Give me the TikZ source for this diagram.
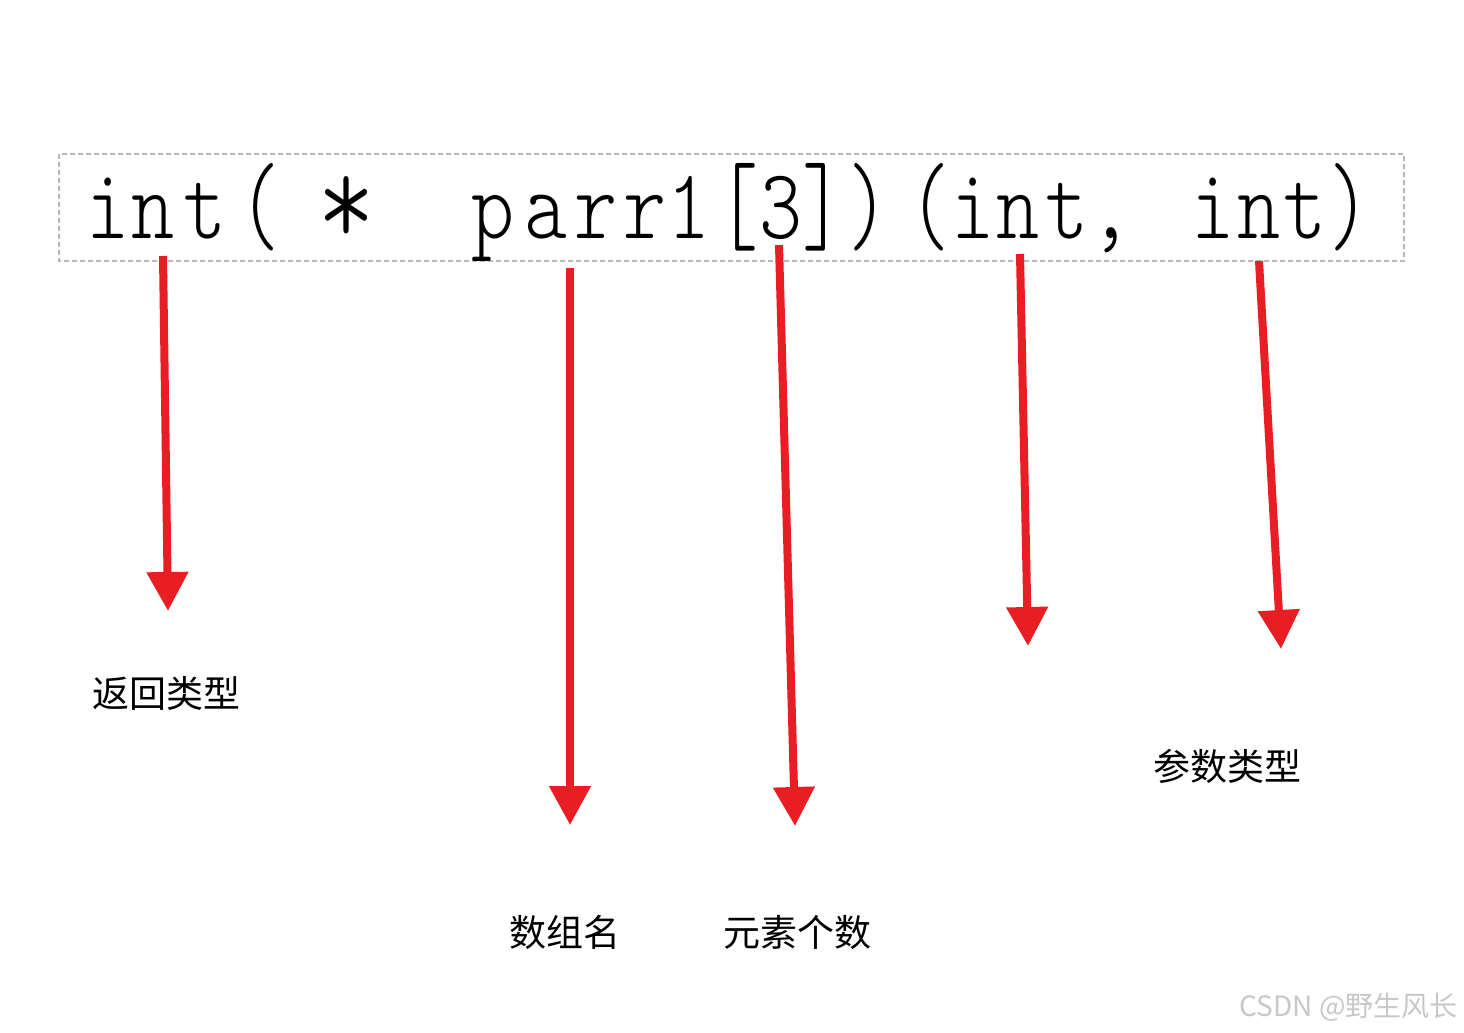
\documentclass[tikz,border=0pt]{standalone}
\usepackage{fontspec}
\newfontfamily\cjk{Noto Sans CJK SC}
\newfontfamily\codefont[FakeStretch=0.82]{lmmonolt10-regular.otf}
\newfontfamily\brfont[FakeStretch=0.7]{lmmonolt10-regular.otf}
\usetikzlibrary{arrows.meta}
\definecolor{arrowred}{RGB}{232,30,36}
\definecolor{boxgray}{RGB}{185,185,185}
\definecolor{markgray}{RGB}{200,200,200}
\tikzset{
  codech/.style={font=\codefont\fontsize{100}{110}\selectfont, inner sep=0pt, anchor=base},
  codebr/.style={font=\brfont\fontsize{112}{120}\selectfont, inner sep=0pt, anchor=base},
  label/.style={font=\cjk\fontsize{37}{40}\selectfont, inner sep=0pt},
  pointer/.style={draw=arrowred, line width=8pt, -{Triangle[length=39pt,width=40pt]}, arrowred},
  codebox/.style={draw=boxgray, line width=1.2pt, dash pattern=on 5pt off 3pt},
  watermark/.style={font=\cjk\fontsize{28}{30}\selectfont, text=markgray, inner sep=0pt}
}
\begin{document}
\begin{tikzpicture}[x=1pt,y=-1pt]
\useasboundingbox (0,0) rectangle (1464,1033);
\fill[white] (0,0) rectangle (1464,1033);

% dashed frame around the declaration
\draw[codebox] (59,154) rectangle (1404,261);

% the declaration  int( *  parr1[3])(int, int)
\node[codech] (c1)  at (108,238) {i};
\node[codech] (c2)  at (153,238) {n};
\node[codech] (c3)  at (205,238) {t};
\node[codebr] (c4)  at (260,241) {(};
\node[codech, font=\codefont\fontsize{135}{140}\selectfont, anchor=center] (c5) at (347,212) {*};
\node[codech] (c6)  at (493,238) {p};
\node[codech] (c7)  at (546,238) {a};
\node[codech] (c8)  at (596,238) {r};
\node[codech] (c9)  at (645,238) {r};
\node[codech] (c10) at (689,238) {1};
\node[codebr] (c11) at (738,241) {[};
\node[codech] (c12) at (781,238) {3};
\node[codebr] (c13) at (823,241) {]};
\node[codebr] (c14) at (868,241) {)};
\node[codebr] (c15) at (930,241) {(};
\node[codech] (c16) at (973,238) {i};
\node[codech] (c17) at (1018,238) {n};
\node[codech] (c18) at (1067,238) {t};
\node[codech] (c19) at (1111,238) {,};
\node[codech] (c20) at (1213,238) {i};
\node[codech] (c21) at (1259,238) {n};
\node[codech] (c22) at (1305,238) {t};
\node[codebr] (c23) at (1349,241) {)};

% labels
\node[label] (ret)   at (166,693) {返回类型};
\node[label] (name)  at (565,932) {数组名};
\node[label] (count) at (797,932) {元素个数};
\node[label] (param) at (1227,766) {参数类型};

% arrow end points
\coordinate (s1) at (163,256);  \coordinate (e1) at (168,611);
\coordinate (s2) at (570,268);  \coordinate (e2) at (570,825);
\coordinate (s3) at (779,245);  \coordinate (e3) at (795,826);
\coordinate (s4) at (1020,254); \coordinate (e4) at (1028,646);
\coordinate (s5) at (1259,261); \coordinate (e5) at (1281,649);

\draw[pointer] (s1) -- (e1);
\draw[pointer] (s2) -- (e2);
\draw[pointer] (s3) -- (e3);
\draw[pointer] (s4) -- (e4);
\draw[pointer] (s5) -- (e5);

% watermark
\node[watermark, anchor=east] (wm) at (1458,1007) {CSDN @野生风长};
\end{tikzpicture}
\end{document}
